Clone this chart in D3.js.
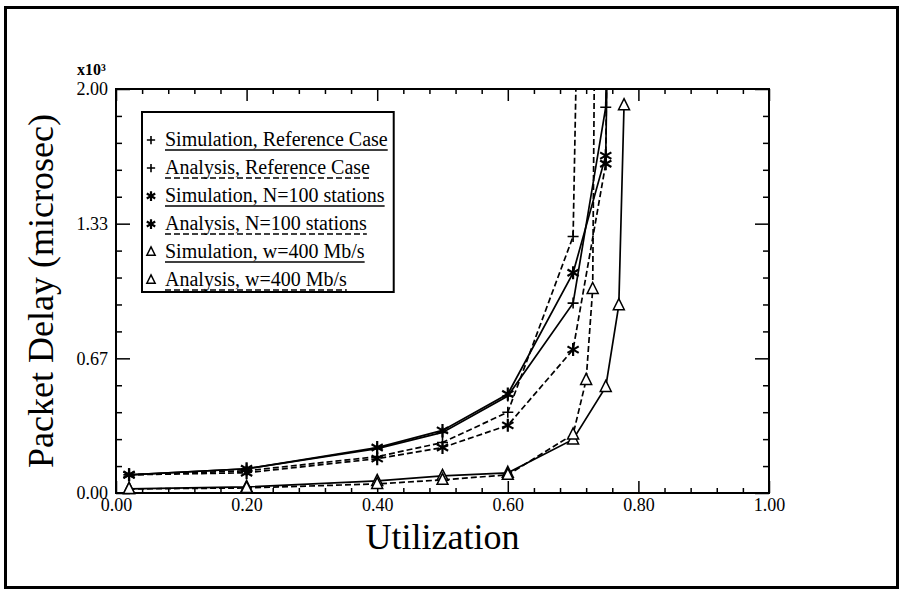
<!DOCTYPE html>
<html><head><meta charset="utf-8">
<script src="https://cdn.jsdelivr.net/npm/d3@7"></script>
<style>body{margin:0;background:#fff}svg{display:block}text{font-family:"Liberation Serif","Times New Roman",serif;fill:#000}</style>
</head><body><svg id="c" width="903" height="594"></svg>
<script>
// ---- data ----
const xTickValues = [0, 0.2, 0.4, 0.6, 0.8, 1.0];
const xTickLabels = ["0.00", "0.20", "0.40", "0.60", "0.80", "1.00"];
const yTickValues = [0, 2/3, 4/3, 2];
const yTickLabels = ["0.00", "0.67", "1.33", "2.00"];

const simRefX = [0.02, 0.2, 0.4, 0.5, 0.6, 0.7, 0.75, 0.752];
const simRefY = [0.09, 0.12, 0.22, 0.30, 0.48, 0.94, 1.91, 2.3];
const anaRefX = [0.02, 0.2, 0.4, 0.5, 0.6, 0.7, 0.706];
const anaRefY = [0.09, 0.11, 0.18, 0.25, 0.40, 1.27, 2.3];
const simNX = [0.02, 0.2, 0.4, 0.5, 0.6, 0.7, 0.75, 0.753];
const simNY = [0.09, 0.12, 0.225, 0.31, 0.49, 1.09, 1.67, 2.3];
const anaNX = [0.02, 0.2, 0.4, 0.5, 0.6, 0.7, 0.75, 0.752];
const anaNY = [0.09, 0.10, 0.17, 0.225, 0.335, 0.71, 1.63, 2.3];
const simWX = [0.02, 0.2, 0.4, 0.5, 0.6, 0.7, 0.75, 0.77, 0.778];
const simWY = [0.02, 0.03, 0.06, 0.085, 0.10, 0.265, 0.525, 0.93, 1.92];
const anaWX = [0.02, 0.2, 0.4, 0.5, 0.6, 0.7, 0.72, 0.73, 0.733];
const anaWY = [0.02, 0.025, 0.045, 0.065, 0.09, 0.29, 0.56, 1.01, 2.3];

const seriesNames = ["Simulation, Reference Case", "Analysis, Reference Case",
  "Simulation, N=100 stations", "Analysis, N=100 stations",
  "Simulation, w=400 Mb/s", "Analysis, w=400 Mb/s"];
const seriesX = [simRefX, anaRefX, simNX, anaNX, simWX, anaWX];
const seriesY = [simRefY, anaRefY, simNY, anaNY, simWY, anaWY];
const seriesMarker = ["plus", "plus", "star", "star", "tri", "tri"];
const seriesDashed = [false, true, false, true, false, true];

// ---- layout ----
const svg = d3.select("#c");
const L = 116, R = 769, T = 89, B = 493;
const x = d3.scaleLinear().domain([0, 1]).range([L, R]);
const y = d3.scaleLinear().domain([0, 2]).range([B, T]);

// outer border
svg.append("rect").attr("x", 5.5).attr("y", 7.5).attr("width", 892).attr("height", 580)
  .attr("fill", "none").attr("stroke", "#000").attr("stroke-width", 3);

const xMinor = d3.range(0, 1.0001, 0.04).filter(v => Math.abs(v*5 - Math.round(v*5)) > 1e-6);
const yMinor = d3.range(0, 2.0001, 2/15).filter(v => Math.abs(v*1.5 - Math.round(v*1.5)) > 1e-6);

function axisG(axis, tx, ty) {
  const g = svg.append("g").attr("transform", `translate(${tx},${ty})`).call(axis);
  g.select(".domain").remove();
  g.selectAll("line").attr("stroke", "#000").attr("stroke-width", 1.5);
  return g;
}
const fmtX = (d, i) => xTickLabels[i];
const fmtY = (d, i) => yTickLabels[i];
// bottom
const gxb = axisG(d3.axisBottom(x).tickValues(xTickValues).tickFormat(fmtX).tickSizeInner(-12).tickPadding(5), 0, B);
gxb.selectAll("text").attr("font-size", 18).attr("font-family", "Liberation Serif");
axisG(d3.axisBottom(x).tickValues(xMinor).tickFormat("").tickSizeInner(-5), 0, B);
// top
axisG(d3.axisTop(x).tickValues(xTickValues).tickFormat("").tickSizeInner(-12), 0, T);
axisG(d3.axisTop(x).tickValues(xMinor).tickFormat("").tickSizeInner(-5), 0, T);
// left
const gyl = axisG(d3.axisLeft(y).tickValues(yTickValues).tickFormat(fmtY).tickSizeInner(-14).tickPadding(8), L, 0);
gyl.selectAll("text").attr("font-size", 18).attr("font-family", "Liberation Serif");
axisG(d3.axisLeft(y).tickValues(yMinor).tickFormat("").tickSizeInner(-6), L, 0);
// right
axisG(d3.axisRight(y).tickValues(yTickValues).tickFormat("").tickSizeInner(-14), R, 0);
axisG(d3.axisRight(y).tickValues(yMinor).tickFormat("").tickSizeInner(-6), R, 0);

// frame
svg.append("rect").attr("x", L).attr("y", T).attr("width", R - L).attr("height", B - T)
  .attr("fill", "none").attr("stroke", "#000").attr("stroke-width", 2);

// x10^3
svg.append("text").attr("x", 77).attr("y", T - 14)
  .attr("font-size", 16).attr("font-weight", "bold").text("x10³");

// axis titles
svg.append("text").attr("x", (L + R) / 2).attr("y", 549).attr("text-anchor", "middle")
  .attr("font-size", 36).text("Utilization");
svg.append("text").attr("transform", `translate(53,${(T + B) / 2}) rotate(-90)`)
  .attr("text-anchor", "middle").attr("font-size", 36).text("Packet Delay (microsec)");

// clip
svg.append("clipPath").attr("id", "pc").append("rect")
  .attr("x", L).attr("y", T).attr("width", R - L).attr("height", B - T);

const line = d3.line().x(d => x(d[0])).y(d => y(d[1]));
function drawMarker(g, type, cx, cy, k) {
  k = k || 1;
  if (type === "plus") {
    const r = 5.5 * k;
    g.append("path").attr("d", `M${cx-r},${cy}H${cx+r}M${cx},${cy-r}V${cy+r}`)
      .attr("stroke", "#000").attr("stroke-width", 1.6).attr("fill", "none");
  } else if (type === "star") {
    const r = 6.5 * k;
    let d = `M${cx},${cy-r}V${cy+r}`;
    [30, -30].forEach(a => {
      const dx = r * Math.cos(a * Math.PI / 180), dy = r * Math.sin(a * Math.PI / 180);
      d += `M${cx-dx},${cy-dy}L${cx+dx},${cy+dy}`;
    });
    g.append("path").attr("d", d).attr("stroke", "#000").attr("stroke-width", 2.2).attr("fill", "none");
  } else {
    const s = 5.5 * k;
    g.append("path").attr("d", `M${cx},${cy-s-1}L${cx+s},${cy+s-1}L${cx-s},${cy+s-1}Z`)
      .attr("stroke", "#000").attr("stroke-width", 1.5).attr("fill", "#fff");
  }
}

const plot = svg.append("g").attr("clip-path", "url(#pc)");
seriesNames.forEach((name, i) => {
  const pts = seriesX[i].map((v, j) => [v, seriesY[i][j]]);
  plot.append("path").attr("d", line(pts)).attr("fill", "none").attr("stroke", "#000")
    .attr("stroke-width", 1.7).attr("stroke-dasharray", seriesDashed[i] ? "6,3" : null);
});
seriesNames.forEach((name, i) => {
  const mg = svg.append("g");
  seriesX[i].forEach((v, j) => {
    if (seriesY[i][j] <= 2) drawMarker(mg, seriesMarker[i], x(v), y(seriesY[i][j]));
  });
});

// legend
const lg = svg.append("g");
const lx = 142, ly = 112, rowH = 28;
let maxW = 0;
seriesNames.forEach((name, i) => {
  const base = ly + 34 + i * rowH;
  drawMarker(lg, seriesMarker[i], lx + 9, base - 6, 0.75);
  const t = lg.append("text").attr("x", lx + 23).attr("y", base).attr("font-size", 20).text(name);
  const w = t.node().getComputedTextLength();
  maxW = Math.max(maxW, w);
  lg.append("line").attr("x1", lx + 23).attr("x2", lx + 23 + w).attr("y1", base + 4).attr("y2", base + 4)
    .attr("stroke", "#000").attr("stroke-width", 1.6).attr("stroke-dasharray", seriesDashed[i] ? "6,3" : null);
});
lg.insert("rect", ":first-child").attr("x", lx).attr("y", ly).attr("width", maxW + 29).attr("height", 180)
  .attr("fill", "#fff").attr("stroke", "#000").attr("stroke-width", 2);
</script></body></html>
